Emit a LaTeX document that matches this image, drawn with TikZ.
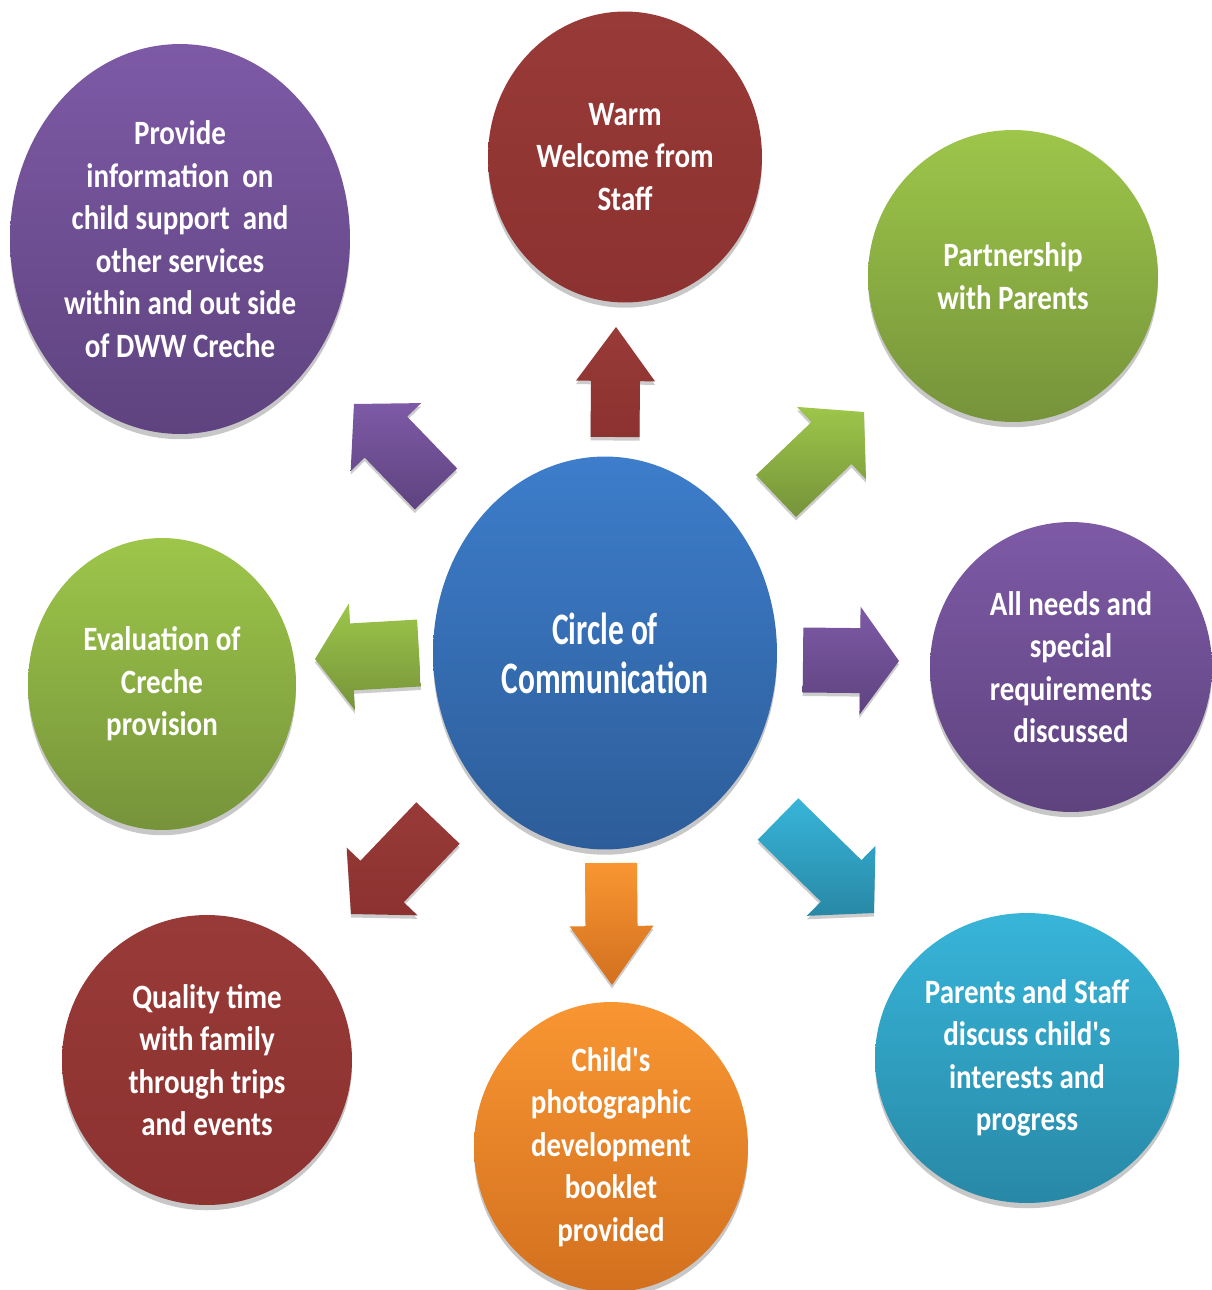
\documentclass[tikz,border=0pt]{standalone}
\usepackage{fontspec}
\setmainfont{Carlito}
\newfontfamily\outerfont[FakeStretch=0.85]{Carlito}
\newfontfamily\centerfont[FakeStretch=0.70]{Carlito}
\usetikzlibrary{shapes.geometric,calc,shadows}
\definecolor{redT}{HTML}{983A38}
\definecolor{redB}{HTML}{8C3230}
\definecolor{greenT}{HTML}{9DC64A}
\definecolor{greenB}{HTML}{76933A}
\definecolor{purpT}{HTML}{7E5AA6}
\definecolor{purpB}{HTML}{5E437F}
\definecolor{blueT}{HTML}{3D7DCB}
\definecolor{blueB}{HTML}{2D5D99}
\definecolor{cyanT}{HTML}{37B5D9}
\definecolor{cyanB}{HTML}{2888A6}
\definecolor{orT}{HTML}{F99632}
\definecolor{orB}{HTML}{D2701F}
\tikzset{
  bub/.style={ellipse, inner sep=0pt, text=white, align=center,
    drop shadow={shadow xshift=0pt, shadow yshift=-3pt, opacity=0.22, fill=black}},
  otext/.style={font=\outerfont\bfseries\fontsize{19.4}{24.2}\selectfont},
  ctext/.style={font=\centerfont\bfseries\fontsize{25.6}{27.9}\selectfont},
  redfill/.style={top color=redT, bottom color=redB},
  greenfill/.style={top color=greenT, bottom color=greenB},
  purpfill/.style={top color=purpT, bottom color=purpB},
  bluefill/.style={top color=blueT, bottom color=blueB},
  cyanfill/.style={top color=cyanT, bottom color=cyanB},
  orfill/.style={top color=orT, bottom color=orB},
  arrshadow/.style={drop shadow={shadow xshift=0pt, shadow yshift=-2pt, opacity=0.2, fill=black}}
}
% #1 base, #2 tip, #3 shaft half width, #4 head half width, #5 head length, #6 style
\newcommand\blockarr[6]{%
  \coordinate (#1h) at ($(#2)!#5!(#1)$);
  \path[#6, arrshadow]
    ($(#1)!#3!90:(#2)$) -- ($(#1h)!#3!-90:(#1)$) -- ($(#1h)!#4!-90:(#1)$) --
    (#2) -- ($(#1h)!#4!90:(#1)$) -- ($(#1h)!#3!90:(#1)$) --
    ($(#1)!#3!-90:(#2)$) -- cycle;
}
\begin{document}
\begin{tikzpicture}[x=0.02cm, y=-0.02cm]
\useasboundingbox (0,0) rectangle (1212,1290);
\clip (0,0) rectangle (1212,1290);

% arrows
\coordinate (upA) at (615,437);  \coordinate (upB) at (616,327);
\coordinate (neA) at (776,496);  \coordinate (neB) at (864,412);
\coordinate (rtA) at (803,660);  \coordinate (rtB) at (899,661);
\coordinate (seA) at (778,819);  \coordinate (seB) at (874,913);
\coordinate (dnA) at (611,863);  \coordinate (dnB) at (612,985);
\coordinate (swA) at (438,823);  \coordinate (swB) at (351,914);
\coordinate (ltA) at (419,653);  \coordinate (ltB) at (315,659);
\coordinate (nwA) at (436,489);  \coordinate (nwB) at (354,404);

\blockarr{upA}{upB}{0.49cm}{0.79cm}{1.08cm}{redfill}
\blockarr{neA}{neB}{0.58cm}{1.00cm}{0.90cm}{greenfill}
\blockarr{rtA}{rtB}{0.65cm}{1.08cm}{0.78cm}{purpfill}
\blockarr{seA}{seB}{0.58cm}{0.98cm}{0.92cm}{cyanfill}
\blockarr{dnA}{dnB}{0.52cm}{0.84cm}{1.18cm}{orfill}
\blockarr{swA}{swB}{0.60cm}{0.98cm}{0.90cm}{redfill}
\blockarr{ltA}{ltB}{0.67cm}{1.07cm}{0.74cm}{greenfill}
\blockarr{nwA}{nwB}{0.59cm}{0.98cm}{0.92cm}{purpfill}

% circles
\node[bub, bluefill, ctext, minimum width=6.88cm, minimum height=7.86cm] (center) at (605,653)
  {Circle of\\Communication};
\node[bub, redfill, otext, minimum width=5.48cm, minimum height=5.82cm] (warm) at (625,157)
  {Warm\\Welcome from\\Staff};
\node[bub, greenfill, otext, minimum width=5.80cm, minimum height=5.84cm] (partner) at (1013,276)
  {Partnership\\with Parents};
\node[bub, purpfill, otext, minimum width=5.64cm, minimum height=5.80cm] (needs) at (1071,667)
  {All needs and\\special\\requirements\\discussed};
\node[bub, cyanfill, otext, minimum width=6.08cm, minimum height=5.80cm] (discuss) at (1027,1058)
  {Parents and Staff\\discuss child's\\interests and\\progress};
\node[bub, orfill, otext, minimum width=5.48cm, minimum height=5.80cm] (booklet) at (611,1147)
  {Child's\\photographic\\development\\booklet\\provided};
\node[bub, redfill, otext, minimum width=5.80cm, minimum height=5.80cm] (quality) at (207,1060)
  {Quality time\\with family\\through trips\\and events};
\node[bub, greenfill, otext, minimum width=5.36cm, minimum height=5.84cm] (eval) at (162,684)
  {Evaluation of\\Creche\\provision};
\node[bub, purpfill, otext, minimum width=6.80cm, minimum height=7.80cm] (info) at (180,239)
  {Provide\\information\ \ on\\child support\ \ and\\other services\\within and out side\\of DWW Creche};
\end{tikzpicture}
\end{document}
